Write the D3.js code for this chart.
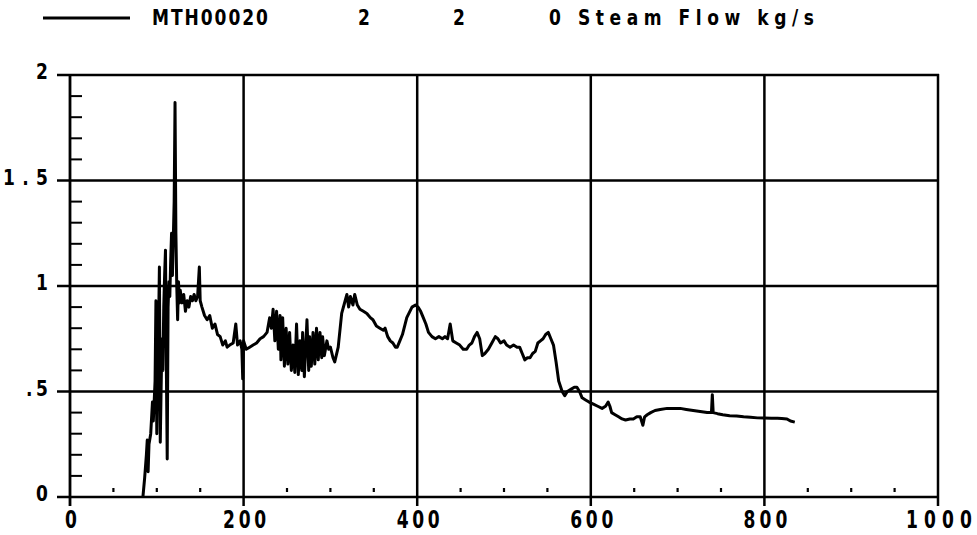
<!DOCTYPE html>
<html>
<head>
<meta charset="utf-8">
<script src="https://cdn.jsdelivr.net/npm/d3@7"></script>
<style>
  html, body { margin: 0; padding: 0; background: #fff; }
  svg { display: block; }
  text { font-family: 'Liberation Sans Narrow', 'DejaVu Sans Condensed', 'Liberation Sans', sans-serif; font-weight: bold; fill: #000; }
</style>
</head>
<body>
<svg id="chart" width="977" height="535"></svg>
<script>
// ---- data ----
const xTickValues = [0, 200, 400, 600, 800, 1000];
const xTickLabels = ["0", "200", "400", "600", "800", "1000"];
const yTickValues = [0, 0.5, 1, 1.5, 2];
const yTickLabels = ["0", ".5", "1", "1.5", "2"];
const legendLabels = ["MTH00020", "2", "2", "0 Steam Flow kg/s"];

const time = [
  84, 86, 88, 89, 90, 91, 93, 95, 96, 98, 99, 100, 101, 102, 103, 104, 105, 106, 107, 108,
  109, 110, 111, 112, 113, 114, 115, 116, 117, 118, 119, 120, 121, 122, 123, 124, 125, 126, 127, 129,
  131, 133, 135, 137, 139, 141, 143, 145, 147, 149, 150, 152, 155, 158, 161, 164, 167, 170, 173, 176,
  179, 181, 184, 188, 191, 193, 196, 198, 199, 200, 203, 207, 211, 215, 219, 223, 227, 230, 232, 234,
  236, 238, 240, 242, 243, 245, 247, 249, 251, 253, 255, 257, 259, 261, 263, 265, 267, 268, 270, 273,
  275, 276, 278, 280, 282, 284, 286, 288, 290, 291, 293, 296, 298, 300, 303, 305, 309, 313, 317, 319,
  321, 323, 326, 328, 331, 334, 338, 342, 346, 349, 353, 357, 361, 363, 366, 369, 372, 375, 377, 380,
  383, 388, 394, 398, 401, 404, 407, 410, 413, 417, 421, 425, 429, 432, 435, 438, 441, 445, 449, 453,
  457, 460, 463, 466, 469, 472, 475, 478, 482, 486, 490, 493, 496, 500, 503, 507, 511, 515, 518, 521,
  524, 527, 530, 533, 536, 539, 542, 545, 548, 551, 554, 557, 560, 563, 567, 570, 573, 577, 581, 584,
  587, 590, 594, 598, 603, 608, 613, 617, 620, 622, 624, 628, 632, 636, 640, 645, 649, 653, 657, 660,
  662, 665, 669, 674, 680, 688, 695, 703, 710, 718, 726, 734, 739, 740, 741, 746, 752, 760, 768, 776,
  784, 792, 800, 808, 815, 820, 826, 830, 835
];
const flow = [
  0, 0.09, 0.2, 0.27, 0.12, 0.25, 0.3, 0.45, 0.36, 0.55, 0.93, 0.3, 0.62, 0.8, 1.09, 0.26, 0.52, 0.75, 0.6, 0.9,
  1.05, 1.17, 0.62, 0.18, 0.9, 1.02, 0.95, 1.12, 1.25, 1.05, 1.22, 1.4, 1.87, 1.25, 1.0, 0.84, 1.02, 0.92, 0.98, 0.92,
  0.96, 0.88, 0.93, 0.9, 0.95, 0.93, 0.96, 0.93, 0.95, 1.09, 0.93, 0.9, 0.86, 0.84, 0.86, 0.8, 0.82, 0.77, 0.76, 0.72,
  0.74, 0.71, 0.72, 0.73, 0.82, 0.72, 0.74, 0.7, 0.56, 0.74, 0.7, 0.71, 0.72, 0.73, 0.75, 0.76, 0.78, 0.85, 0.8, 0.89,
  0.74, 0.88, 0.7, 0.86, 0.65, 0.85, 0.62, 0.8, 0.63, 0.78, 0.6, 0.72, 0.59, 0.82, 0.58, 0.74, 0.6, 0.78, 0.57, 0.84,
  0.6, 0.76, 0.62, 0.78, 0.63, 0.8, 0.65, 0.78, 0.66, 0.76, 0.67, 0.74, 0.7, 0.71, 0.66, 0.64, 0.71, 0.87, 0.93, 0.96,
  0.9, 0.95, 0.91, 0.96, 0.91, 0.89, 0.88, 0.87, 0.85, 0.84, 0.81, 0.8, 0.79, 0.8, 0.76, 0.74, 0.73, 0.71, 0.71, 0.74,
  0.77, 0.85, 0.9, 0.91, 0.9, 0.88, 0.85, 0.82, 0.78, 0.76, 0.75, 0.76, 0.75, 0.76, 0.75, 0.82, 0.74, 0.73, 0.72, 0.7,
  0.7, 0.72, 0.73, 0.76, 0.78, 0.75, 0.67, 0.68, 0.7, 0.73, 0.76, 0.75, 0.73, 0.74, 0.72, 0.71, 0.72, 0.71, 0.71, 0.68,
  0.65, 0.66, 0.66, 0.68, 0.69, 0.73, 0.74, 0.75, 0.77, 0.78, 0.75, 0.72, 0.64, 0.55, 0.5, 0.48, 0.5, 0.51, 0.52, 0.52,
  0.5, 0.47, 0.46, 0.45, 0.44, 0.43, 0.42, 0.43, 0.45, 0.43, 0.4, 0.39, 0.38, 0.37, 0.365, 0.37, 0.37, 0.38, 0.38, 0.34,
  0.38, 0.39, 0.4, 0.41, 0.415, 0.42, 0.42, 0.42, 0.415, 0.41, 0.405, 0.4, 0.4, 0.485, 0.4, 0.395, 0.39, 0.385, 0.384, 0.38,
  0.378, 0.375, 0.374, 0.373, 0.373, 0.372, 0.37, 0.36, 0.355
];

// ---- layout ----
const svg = d3.select("#chart");
const x = d3.scaleLinear().domain([0, 1000]).range([70, 938]);
const y = d3.scaleLinear().domain([0, 2]).range([497, 75]);

// horizontal grid lines (extend left of axis like major ticks)
svg.append("g").selectAll("line").data(yTickValues).join("line")
  .attr("x1", 57).attr("x2", x(1000) + 1)
  .attr("y1", d => y(d)).attr("y2", d => y(d))
  .attr("stroke", "#000").attr("stroke-width", 2.5);

// vertical grid lines
svg.append("g").selectAll("line").data(xTickValues).join("line")
  .attr("x1", d => x(d)).attr("x2", d => x(d))
  .attr("y1", y(2) - 1).attr("y2", 506)
  .attr("stroke", "#000").attr("stroke-width", d => d === 0 ? 2.8 : 2.5);

// y minor ticks (every 0.1)
const yMinor = d3.range(0, 2.0001, 0.1).filter(v => Math.abs(v * 2 - Math.round(v * 2)) > 1e-6);
svg.append("g").selectAll("line").data(yMinor).join("line")
  .attr("x1", x(0)).attr("x2", x(0) + 12)
  .attr("y1", d => y(d)).attr("y2", d => y(d))
  .attr("stroke", "#000").attr("stroke-width", 2);

// x minor ticks (every 50)
const xMinor = d3.range(50, 1000, 50).filter(v => v % 200 !== 0);
svg.append("g").selectAll("line").data(xMinor).join("line")
  .attr("x1", d => x(d)).attr("x2", d => x(d))
  .attr("y1", y(0) - 9).attr("y2", y(0) - 5)
  .attr("stroke", "#000").attr("stroke-width", 2.2);

// y labels
const yLabelWidths = { "0": 9, ".5": 22, "1": 6, "1.5": 45, "2": 10 };
svg.append("g").selectAll("text").data(yTickValues).join("text")
  .attr("transform", d => `translate(48,${y(d) + 4}) scale(1,1.1)`)
  .attr("text-anchor", "end")
  .attr("font-size", 19)
  .attr("textLength", (d, i) => yLabelWidths[yTickLabels[i]])
  .attr("lengthAdjust", "spacing")
  .text((d, i) => yTickLabels[i]);

// x labels
const xLabelWidths = { "0": 10, "200": 43, "400": 43, "600": 43, "800": 44, "1000": 66 };
svg.append("g").selectAll("text").data(xTickValues).join("text")
  .attr("transform", d => `translate(${x(d) + 1},528) scale(1,1.3)`)
  .attr("text-anchor", "middle")
  .attr("font-size", 19)
  .attr("textLength", (d, i) => xLabelWidths[xTickLabels[i]])
  .attr("lengthAdjust", "spacing")
  .text((d, i) => xTickLabels[i]);

// data line
const line = d3.line().x(d => x(d[0])).y(d => y(d[1]));
svg.append("path")
  .datum(time.map((t, i) => [t, flow[i]]))
  .attr("d", line)
  .attr("fill", "none")
  .attr("stroke", "#000")
  .attr("stroke-width", 3)
  .attr("stroke-linejoin", "round");

// legend
const lg = svg.append("g");
lg.append("line").attr("x1", 43).attr("x2", 130).attr("y1", 18).attr("y2", 18)
  .attr("stroke", "#000").attr("stroke-width", 3);
const legendPos = [
  { x: 152, w: 116 },
  { x: 358, w: 11 },
  { x: 453, w: 12 },
  { x: 549, w: 265 }
];
lg.selectAll("text").data(legendLabels).join("text")
  .attr("transform", (d, i) => `translate(${legendPos[i].x},25) scale(1,1.1)`)
  .attr("font-size", 19)
  .attr("textLength", (d, i) => legendPos[i].w)
  .attr("lengthAdjust", "spacing")
  .text(d => d);
</script>
</body>
</html>
